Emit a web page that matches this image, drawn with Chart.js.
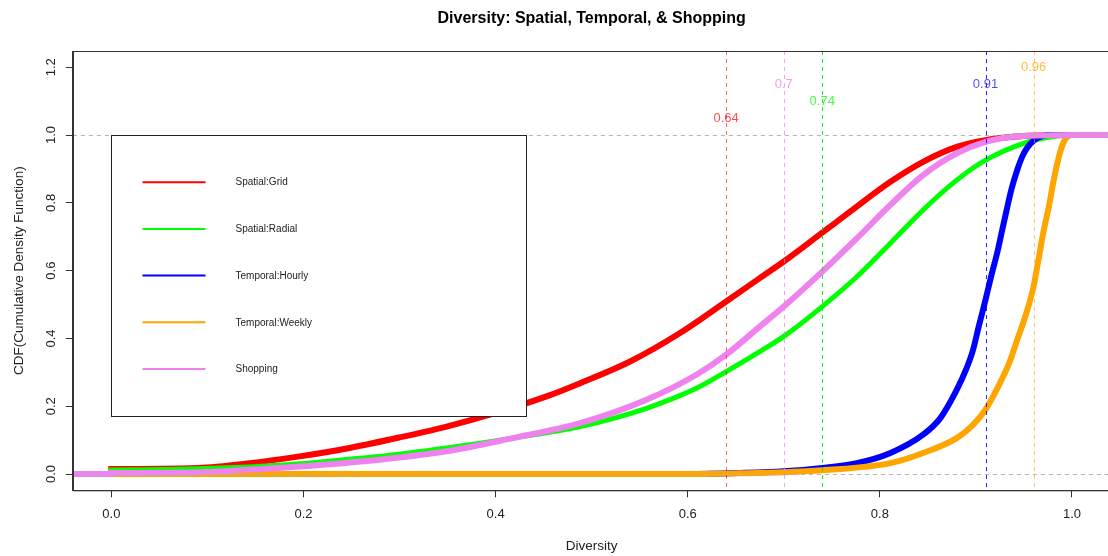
<!DOCTYPE html>
<html>
<head>
<meta charset="utf-8">
<title>Diversity: Spatial, Temporal, & Shopping</title>
<script src="https://cdn.jsdelivr.net/npm/chart.js@4.4.1/dist/chart.umd.min.js"></script>
<style>
  html, body { margin: 0; padding: 0; background: #fff; overflow: hidden; }
  #wrap { position: absolute; left: 0; top: 0; width: 1112px; height: 556px; }
</style>
</head>
<body>
<div id="wrap"><canvas id="cdf" width="1112" height="556"></canvas></div>
<script>
const FONT = '"Liberation Sans", Arial, sans-serif';

// axis ranges and ticks
const xRange = [-0.04, 1.04];
const yRange = [-0.048, 1.248];
const xTicks = [0, 0.2, 0.4, 0.6, 0.8, 1.0];
const yTicks = [0, 0.2, 0.4, 0.6, 0.8, 1.0, 1.2];

// CDF curves
const spatialGridX = [-0.04, 0, 0, 0.09, 0.144, 0.196, 0.248, 0.30, 0.349, 0.394, 0.453, 0.488, 0.54, 0.592, 0.64, 0.675, 0.70, 0.74, 0.769, 0.811, 0.845, 0.88, 0.91, 0.95, 1.0, 1.04];
const spatialGridY = [0, 0, 0.015, 0.018, 0.032, 0.052, 0.077, 0.108, 0.140, 0.175, 0.229, 0.268, 0.332, 0.416, 0.509, 0.578, 0.627, 0.712, 0.774, 0.862, 0.921, 0.965, 0.985, 0.997, 1.0, 1.0];

const spatialRadialX = [-0.04, 0, 0, 0.144, 0.196, 0.248, 0.279, 0.349, 0.418, 0.488, 0.557, 0.609, 0.64, 0.675, 0.70, 0.74, 0.776, 0.811, 0.845, 0.88, 0.91, 0.949, 0.984, 1.0, 1.04];
const spatialRadialY = [0, 0, 0.012, 0.021, 0.030, 0.044, 0.052, 0.077, 0.106, 0.140, 0.194, 0.253, 0.302, 0.361, 0.406, 0.494, 0.582, 0.681, 0.779, 0.867, 0.926, 0.975, 0.997, 1.0, 1.0];

const hourlyX = [-0.04, 0.60, 0.654, 0.70, 0.74, 0.776, 0.811, 0.845, 0.863, 0.88, 0.89, 0.897, 0.903, 0.91, 0.916, 0.922, 0.927, 0.932, 0.937, 0.943, 0.948, 0.953, 0.96, 0.967, 0.975, 1.04];
const hourlyY = [0, 0, 0.003, 0.008, 0.018, 0.032, 0.062, 0.116, 0.165, 0.248, 0.31, 0.366, 0.436, 0.514, 0.585, 0.651, 0.715, 0.779, 0.84, 0.897, 0.935, 0.961, 0.983, 0.995, 1.0, 1.0];

const weeklyX = [-0.04, 0.60, 0.654, 0.70, 0.74, 0.811, 0.845, 0.88, 0.897, 0.91, 0.925, 0.935, 0.943, 0.952, 0.96, 0.965, 0.97, 0.976, 0.981, 0.985, 0.989, 0.993, 0.997, 1.0, 1.04];
const weeklyY = [0, 0, 0.002, 0.005, 0.011, 0.032, 0.062, 0.106, 0.145, 0.19, 0.268, 0.33, 0.396, 0.47, 0.553, 0.63, 0.71, 0.79, 0.867, 0.92, 0.962, 0.988, 0.998, 1.0, 1.0];

const shoppingX = [-0.04, 0, 0, 0.092, 0.144, 0.196, 0.248, 0.279, 0.349, 0.418, 0.488, 0.557, 0.609, 0.64, 0.675, 0.70, 0.74, 0.776, 0.811, 0.845, 0.88, 0.91, 0.949, 1.0, 1.04];
const shoppingY = [0, 0, 0.003, 0.005, 0.013, 0.022, 0.034, 0.042, 0.067, 0.106, 0.150, 0.219, 0.293, 0.352, 0.435, 0.494, 0.597, 0.695, 0.794, 0.882, 0.946, 0.98, 0.997, 1.0, 1.0];

const seriesNames = ["Spatial:Grid", "Spatial:Radial", "Temporal:Hourly", "Temporal:Weekly", "Shopping"];
const seriesColors = ["#ff0000", "#00ff00", "#0000ff", "#ffa500", "#ee82ee"];

// vertical marker lines and their labels
const markerValues = [0.64, 0.7, 0.74, 0.91, 0.96];
const markerLabels = ["0.64", "0.7", "0.74", "0.91", "0.96"];
const markerLabelY = [1.05, 1.15, 1.10, 1.15, 1.20];
const markerLineColors = ["rgba(255,0,0,0.6)", "rgba(238,130,238,0.75)", "rgba(0,230,0,0.9)", "rgba(0,0,255,0.85)", "rgba(255,165,0,0.6)"];
const markerTextColors = ["rgba(255,0,0,0.7)", "rgba(238,130,238,0.75)", "rgba(0,255,0,0.75)", "rgba(0,0,255,0.7)", "rgba(255,165,0,0.75)"];

const toPoints = (xs, ys) => xs.map((v, i) => ({ x: v, y: ys[i] }));

const curves = [
  toPoints(spatialGridX, spatialGridY),
  toPoints(spatialRadialX, spatialRadialY),
  toPoints(hourlyX, hourlyY),
  toPoints(weeklyX, weeklyY),
  toPoints(shoppingX, shoppingY),
];
const lineWidths = [6, 5, 6, 6, 6];

const datasets = curves.map((pts, i) => ({
  label: seriesNames[i],
  data: pts,
  borderColor: seriesColors[i],
  backgroundColor: seriesColors[i],
  borderWidth: lineWidths[i],
  pointRadius: 0,
  fill: false,
  cubicInterpolationMode: "monotone",
  clip: 0,
  order: seriesNames.length - i,
}));

function strokeLine(ctx, x1, y1, x2, y2) {
  ctx.beginPath();
  ctx.moveTo(x1, y1);
  ctx.lineTo(x2, y2);
  ctx.stroke();
}

const overlays = {
  id: "overlays",
  afterDatasetsDraw(chart) {
    const { ctx, chartArea: a } = chart;
    const x = chart.scales.x;
    const y = chart.scales.y;

    ctx.save();
    ctx.beginPath();
    ctx.rect(a.left, a.top, a.right - a.left, a.bottom - a.top);
    ctx.clip();

    // grey dashed lines at 0 and 1
    ctx.lineWidth = 1;
    ctx.setLineDash([4, 4]);
    ctx.strokeStyle = "#b3b3b3";
    [0, 1].forEach((v) => {
      const py = Math.round(y.getPixelForValue(v)) + 0.5;
      strokeLine(ctx, a.left, py, a.right, py);
    });

    // vertical markers
    markerValues.forEach((v, i) => {
      const px = Math.round(x.getPixelForValue(v)) + 0.5;
      ctx.strokeStyle = markerLineColors[i];
      strokeLine(ctx, px, a.top, px, a.bottom);
    });
    ctx.setLineDash([]);

    ctx.font = "13px " + FONT;
    ctx.textAlign = "center";
    ctx.textBaseline = "middle";
    markerValues.forEach((v, i) => {
      ctx.fillStyle = markerTextColors[i];
      ctx.fillText(markerLabels[i], x.getPixelForValue(v), y.getPixelForValue(markerLabelY[i]));
    });
    ctx.restore();

    // legend box anchored at (0, 1)
    const lx = Math.round(x.getPixelForValue(0)) + 0.5;
    const ly = Math.round(y.getPixelForValue(1)) + 0.5;
    const lw = 415;
    const lh = 281;
    ctx.save();
    ctx.fillStyle = "#ffffff";
    ctx.fillRect(lx, ly, lw, lh);
    ctx.strokeStyle = "#222";
    ctx.lineWidth = 1;
    ctx.strokeRect(lx, ly, lw, lh);
    ctx.font = "10px " + FONT;
    ctx.textAlign = "left";
    ctx.textBaseline = "middle";
    seriesNames.forEach((name, i) => {
      const ry = ly + 46.7 * (i + 1);
      ctx.strokeStyle = seriesColors[i];
      ctx.lineWidth = 2;
      strokeLine(ctx, lx + 31, ry, lx + 94, ry);
      ctx.fillStyle = "#222";
      ctx.fillText(name, lx + 124, ry + 0.5);
    });
    ctx.restore();
  },
  afterDraw(chart) {
    const { ctx, chartArea: a } = chart;
    ctx.save();
    ctx.strokeStyle = "#333";
    ctx.lineWidth = 1;
    ctx.strokeRect(Math.round(a.left) + 0.5, Math.round(a.top) + 0.5, a.right - a.left, a.bottom - a.top);
    ctx.restore();
  },
};

const tickFont = { family: FONT, size: 13 };
const titleFont = { family: FONT, size: 13.5 };

new Chart(document.getElementById("cdf"), {
  type: "line",
  data: { datasets },
  plugins: [overlays],
  options: {
    responsive: false,
    animation: false,
    devicePixelRatio: 1,
    layout: { padding: { left: 0, right: 1.6, top: 0, bottom: 0 } },
    plugins: {
      legend: { display: false },
      tooltip: { enabled: false },
      title: {
        display: true,
        fullSize: false,
        text: "Diversity: Spatial, Temporal, & Shopping",
        color: "#000",
        font: { family: FONT, size: 16, weight: "bold", lineHeight: 1.2 },
        padding: { top: 9, bottom: 22.8 },
      },
    },
    scales: {
      x: {
        type: "linear",
        min: xRange[0],
        max: xRange[1],
        afterBuildTicks: (s) => { s.ticks = xTicks.map((v) => ({ value: v })); },
        afterFit: (s) => { s.height = 65.7; },
        ticks: {
          color: "#222",
          font: tickFont,
          padding: 9.2,
          maxRotation: 0,
          autoSkip: false,
          callback: (v) => Number(v).toFixed(1),
        },
        grid: { drawOnChartArea: false, drawTicks: true, tickLength: 7, color: "#333" },
        border: { display: true, color: "#333" },
        title: {
          display: true,
          text: "Diversity",
          color: "#222",
          font: titleFont,
          padding: { top: 0, bottom: 1.4 },
        },
      },
      y: {
        type: "linear",
        min: yRange[0],
        max: yRange[1],
        afterBuildTicks: (s) => { s.ticks = yTicks.map((v) => ({ value: v })); },
        afterFit: (s) => { s.width = 72.9; },
        ticks: {
          color: "#222",
          font: tickFont,
          padding: 5,
          minRotation: 90,
          maxRotation: 90,
          crossAlign: "center",
          autoSkip: false,
          callback: (v) => Number(v).toFixed(1),
        },
        grid: { drawOnChartArea: false, drawTicks: true, tickLength: 7, color: "#333" },
        border: { display: true, color: "#333" },
        title: {
          display: true,
          text: "CDF(Cumulative Density Function)",
          color: "#222",
          font: titleFont,
          padding: { top: 10.9, bottom: 0 },
        },
      },
    },
  },
});
</script>
</body>
</html>
